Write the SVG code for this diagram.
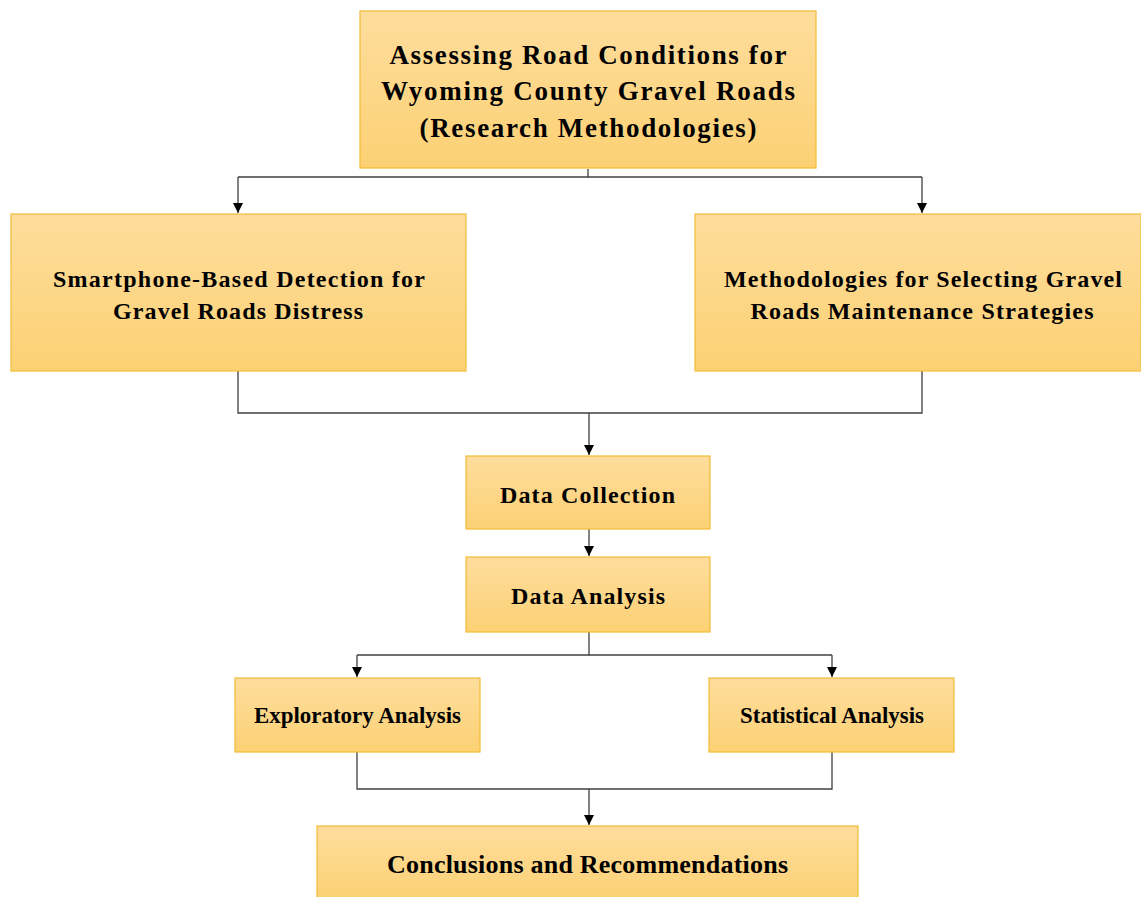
<svg xmlns="http://www.w3.org/2000/svg" width="1141" height="897" viewBox="0 0 1141 897">
<defs>
<linearGradient id="g" x1="0" y1="0" x2="0" y2="1">
<stop offset="0" stop-color="#FEDD9D"/>
<stop offset="1" stop-color="#FCD174"/>
</linearGradient>
<marker id="ah" viewBox="0 0 10 10" refX="10" refY="5" markerWidth="10" markerHeight="10" markerUnits="userSpaceOnUse" orient="auto">
<path d="M0,0 L10,5 L0,10 Z" fill="#000"/>
</marker>
<style>
.box{fill:url(#g);stroke:#F0BC36;stroke-width:1.2}
.t{font-family:"Liberation Serif","Times New Roman",serif;font-weight:bold;fill:#000;text-anchor:middle}
.c{fill:none;stroke:#404040;stroke-width:1.3}
.a{marker-end:url(#ah)}
</style>
</defs>
<rect width="1141" height="897" fill="#fff"/>
<g id="connectors">
<path class="c" d="M588,169 V177 H238"/>
<path class="c a" d="M238,177 V213"/>
<path class="c" d="M588,177 H922"/>
<path class="c a" d="M922,177 V213"/>
<path class="c" d="M238,371 V413 H922 V371"/>
<path class="c a" d="M589,413 V455"/>
<path class="c a" d="M589,529 V556"/>
<path class="c" d="M589,632 V655 H357"/>
<path class="c a" d="M357,655 V677"/>
<path class="c" d="M589,655 H832"/>
<path class="c a" d="M832,655 V677"/>
<path class="c" d="M357,752 V789 H832 V752"/>
<path class="c a" d="M589,789 V825"/>
</g>
<g id="n-title">
<rect class="box" x="360" y="11" width="456" height="157"/>
<text class="t" font-size="27"><tspan x="588" y="63.5" textLength="397" lengthAdjust="spacing">Assessing Road Conditions for</tspan><tspan x="588" y="100" textLength="414" lengthAdjust="spacing">Wyoming County Gravel Roads</tspan><tspan x="588" y="137" textLength="337" lengthAdjust="spacing">(Research Methodologies)</tspan></text>
</g>
<g id="n-smartphone">
<rect class="box" x="11" y="214" width="455" height="157"/>
<text class="t" font-size="24"><tspan x="239" y="287" textLength="372" lengthAdjust="spacing">Smartphone-Based Detection for</tspan><tspan x="238" y="318.5" textLength="250" lengthAdjust="spacing">Gravel Roads Distress</tspan></text>
</g>
<g id="n-methodologies">
<rect class="box" x="695" y="214" width="446" height="157"/>
<text class="t" font-size="24"><tspan x="923" y="287" textLength="398" lengthAdjust="spacing">Methodologies for Selecting Gravel</tspan><tspan x="922" y="318.5" textLength="343" lengthAdjust="spacing">Roads Maintenance Strategies</tspan></text>
</g>
<g id="n-collection">
<rect class="box" x="466" y="456" width="244" height="73"/>
<text class="t" font-size="24" x="587.5" y="502.5" textLength="175" lengthAdjust="spacing">Data Collection</text>
</g>
<g id="n-analysis">
<rect class="box" x="466" y="557" width="244" height="75"/>
<text class="t" font-size="24" x="588" y="603.5" textLength="154" lengthAdjust="spacing">Data Analysis</text>
</g>
<g id="n-exploratory">
<rect class="box" x="235" y="678" width="245" height="74"/>
<text class="t" font-size="23" x="357.5" y="723" textLength="207" lengthAdjust="spacingAndGlyphs">Exploratory Analysis</text>
</g>
<g id="n-statistical">
<rect class="box" x="709" y="678" width="245" height="74"/>
<text class="t" font-size="23" x="832" y="723" textLength="184" lengthAdjust="spacingAndGlyphs">Statistical Analysis</text>
</g>
<g id="n-conclusions">
<rect class="box" x="317" y="826" width="541" height="74"/>
<text class="t" font-size="26" x="587.5" y="872.5" textLength="401" lengthAdjust="spacing">Conclusions and Recommendations</text>
</g>
</svg>
